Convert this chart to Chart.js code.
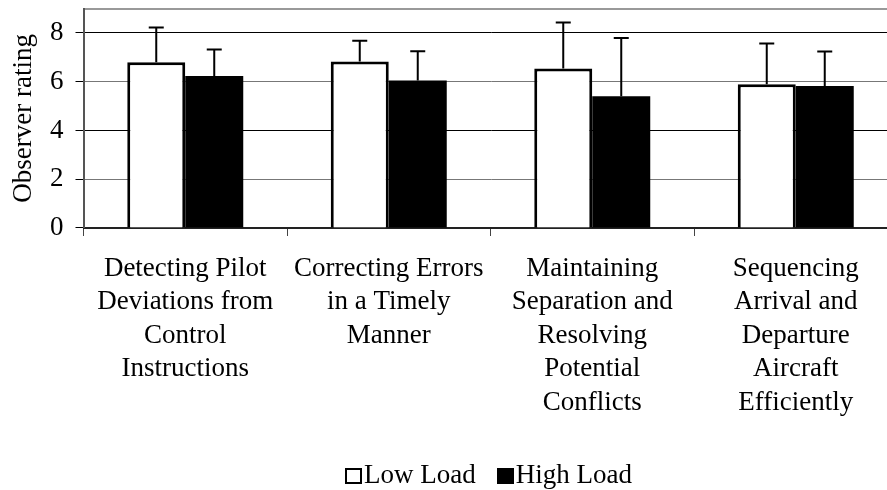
<!DOCTYPE html>
<html>
<head>
<meta charset="utf-8">
<script src="https://cdn.jsdelivr.net/npm/chart.js@4/dist/chart.umd.min.js"></script>
<style>
    html, body { margin: 0; padding: 0; background: #fff; overflow: hidden; }
    #wrap { position: relative; width: 900px; height: 490px; }
    #legend {
        position: absolute; left: 345px; top: 459px;
        font-family: 'Liberation Serif', 'Times New Roman', serif;
        font-size: 27px; line-height: 30px; color: #000; white-space: nowrap;
    }
    .box { display: inline-block; width: 13px; height: 12px; border: 2px solid #000; vertical-align: -1px; margin-right: 2px; }
    .box.dark { background: #000; margin-left: 21px; }
</style>
</head>
<body>
<div id="wrap">
    <canvas id="chart"></canvas>
    <div id="legend"><span class="box"></span>Low Load<span class="box dark"></span>High Load</div>
</div>
<script>
const categories = [
    ['Detecting Pilot', 'Deviations from', 'Control', 'Instructions'],
    ['Correcting Errors', 'in a Timely', 'Manner'],
    ['Maintaining', 'Separation and', 'Resolving', 'Potential', 'Conflicts'],
    ['Sequencing', 'Arrival and', 'Departure', 'Aircraft', 'Efficiently']
];
const seriesNames = ['Low Load', 'High Load'];
const lowLoad = [6.80, 6.83, 6.54, 5.90];
const highLoad = [6.24, 6.05, 5.40, 5.82];
// upper error bar length (SD)
const lowLoadSD = [1.42, 0.85, 1.89, 1.67];
const highLoadSD = [1.08, 1.20, 2.39, 1.42];
const yTicks = [0, 2, 4, 6, 8];
const yMax = 9;

const serif = "'Liberation Serif', 'Times New Roman', serif";

// only the upper whisker is drawn, like in the original
const errorBars = {
    id: 'errorBars',
    afterDatasetsDraw(chart) {
        const ctx = chart.ctx;
        const y = chart.scales.y;
        const sds = [lowLoadSD, highLoadSD];
        ctx.save();
        ctx.strokeStyle = '#000';
        ctx.lineWidth = 2;
        chart.data.datasets.forEach((ds, i) => {
            const meta = chart.getDatasetMeta(i);
            meta.data.forEach((bar, j) => {
                const top = y.getPixelForValue(ds.data[j] + sds[i][j]);
                const base = y.getPixelForValue(ds.data[j]);
                ctx.beginPath();
                ctx.moveTo(bar.x, base);
                ctx.lineTo(bar.x, top);
                ctx.moveTo(bar.x - 7.5, top);
                ctx.lineTo(bar.x + 7.5, top);
                ctx.stroke();
            });
        });
        ctx.restore();
    }
};

new Chart(document.getElementById('chart'), {
    type: 'bar',
    data: {
        labels: categories,
        datasets: [{
            label: seriesNames[0],
            data: lowLoad,
            backgroundColor: '#fff',
            borderColor: '#000',
            borderWidth: 3,
            categoryPercentage: 0.57,
            barPercentage: 1.0
        }, {
            label: seriesNames[1],
            data: highLoad,
            backgroundColor: '#000',
            borderColor: '#000',
            borderWidth: 0,
            categoryPercentage: 0.57,
            barPercentage: 1.0
        }]
    },
    options: {
        responsive: true,
        maintainAspectRatio: false,
        animation: false,
        layout: { padding: { top: 8.6, right: 2.5, left: 0, bottom: 0 } },
        plugins: {
            legend: { display: false },
            tooltip: { enabled: false }
        },
        scales: {
            x: {
                afterFit: s => { s.height = 262; s.paddingLeft = 0; s.paddingRight = 0; },
                grid: { drawOnChartArea: false, tickLength: 8, color: '#444' },
                border: { color: '#222', width: 2 },
                ticks: {
                    color: '#000',
                    maxRotation: 0,
                    autoSkip: false,
                    padding: 16,
                    font: { family: serif, size: 27, lineHeight: 1.24 }
                }
            },
            y: {
                min: 0,
                max: yMax,
                afterFit: s => { s.width = 83.5; s.paddingTop = 0; s.paddingBottom = 0; },
                afterBuildTicks: s => {
                    s.ticks = yTicks.concat([yMax]).map(v => ({ value: v }));
                },
                grid: {
                    tickLength: 8,
                    color: c => c.tick.value === yMax ? '#999' : (c.tick.value % 4 === 0 ? '#000' : '#777'),
                    lineWidth: c => c.tick.value === yMax ? 2 : 1,
                    tickColor: c => c.tick.value === yMax ? 'rgba(0,0,0,0)' : '#000'
                },
                border: { color: '#555', width: 2 },
                ticks: {
                    color: '#000',
                    padding: 12,
                    callback: v => v === yMax ? '' : v,
                    font: { family: serif, size: 27 }
                },
                title: {
                    display: true,
                    text: 'Observer rating',
                    color: '#000',
                    padding: { top: 8, bottom: 0 },
                    font: { family: serif, size: 27 }
                }
            }
        }
    },
    plugins: [errorBars]
});
</script>
</body>
</html>
